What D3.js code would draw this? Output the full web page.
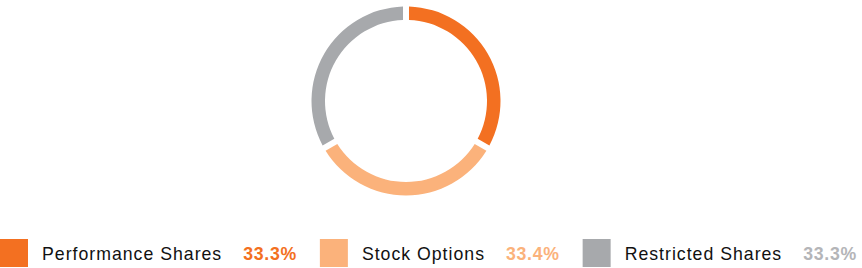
<!DOCTYPE html>
<html>
<head>
<meta charset="utf-8">
<script src="https://cdn.jsdelivr.net/npm/d3@7"></script>
<style>
  html, body { margin: 0; padding: 0; background: #fff; }
  svg { display: block; font-family: Arial, "Liberation Sans", sans-serif; }
</style>
</head>
<body>
<svg id="chart" width="862" height="268"></svg>
<script>
// chart data
var categories = ["Performance Shares", "Stock Options", "Restricted Shares"];
var shares = [33.3, 33.4, 33.3];
var colors = ["#f37021", "#fbb27b", "#a7a9ac"];
var pctColors = ["#f37021", "#fbb27b", "#b4b5b8"];

var svg = d3.select("#chart");
var width = 862, height = 268;

// donut
var cx = 406, cy = 101;
var outerR = 94.5, innerR = 81;

var pie = d3.pie().sort(null).value(function (d) { return d; });
var arc = d3.arc().innerRadius(innerR).outerRadius(outerR).padAngle(0.048);

var g = svg.append("g").attr("transform", "translate(" + cx + "," + cy + ")");
g.selectAll("path")
  .data(pie(shares))
  .enter().append("path")
  .attr("d", arc)
  .attr("fill", function (d, i) { return colors[i]; });

// legend - laid out left to right, each item pushed after the previous one
var legend = svg.append("g").attr("transform", "translate(0,239)");
var box = 28, labelGap = 14, pctGap = 21, itemGap = 23;
var fs = 17.7;
var x = 0;

categories.forEach(function (name, i) {
  var item = legend.append("g").attr("transform", "translate(" + x + ",0)");
  item.append("rect")
    .attr("width", box).attr("height", box)
    .attr("fill", colors[i]);
  var lbl = item.append("text")
    .attr("x", box + labelGap).attr("y", 20.5)
    .attr("font-size", fs)
    .attr("letter-spacing", 1.0)
    .attr("fill", "#111")
    .text(name);
  var lw = lbl.node().getComputedTextLength();
  var pct = item.append("text")
    .attr("x", box + labelGap + lw + pctGap).attr("y", 20.5)
    .attr("font-size", fs)
    .attr("letter-spacing", 0.7)
    .attr("font-weight", "bold")
    .attr("fill", pctColors[i])
    .text(d3.format(".1f")(shares[i]) + "%");
  var pw = pct.node().getComputedTextLength();
  x += box + labelGap + lw + pctGap + pw + itemGap;
});
</script>
</body>
</html>
